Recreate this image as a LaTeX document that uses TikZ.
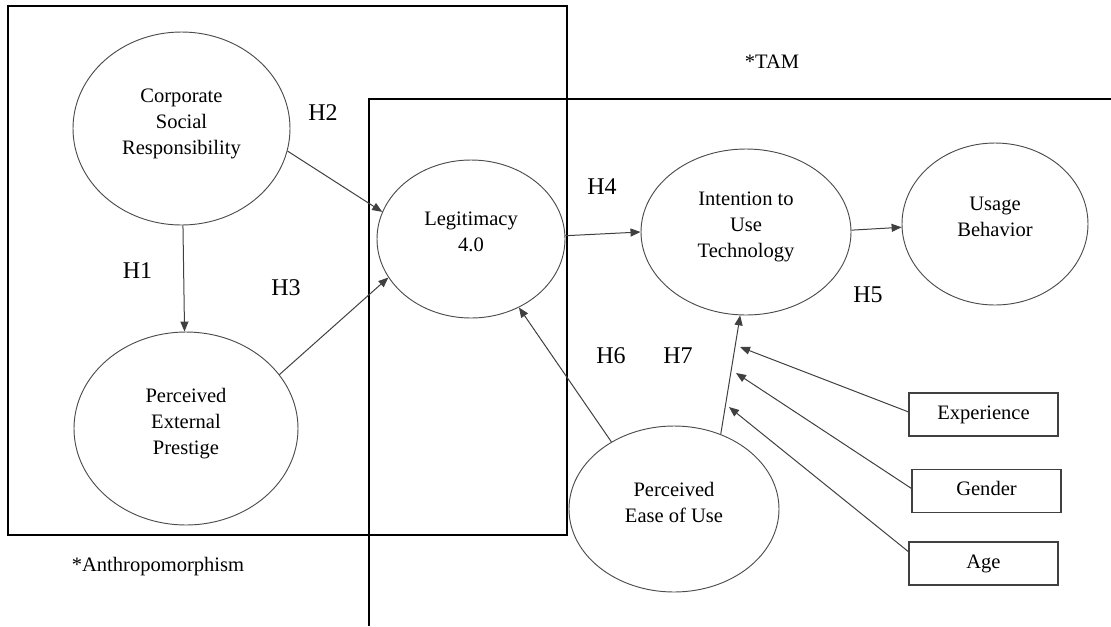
\documentclass[tikz,border=0pt]{standalone}
\usepackage{fontspec}
\setmainfont{Liberation Serif}
\usetikzlibrary{shapes.geometric,arrows.meta}

\begin{document}
\begin{tikzpicture}[x=0.75pt,y=-0.75pt,
  latent/.style={ellipse,draw=black!70,line width=0.7pt,inner sep=0pt,align=center,
    font=\fontsize{15.4}{19.5}\selectfont,text depth=10.5pt},
  indicator/.style={rectangle,draw=black!75,line width=1pt,inner sep=0pt,
    minimum width=111.75pt,minimum height=32.25pt,
    font=\fontsize{15.4}{19.5}\selectfont,text height=10.5pt,text depth=3.5pt},
  hyp/.style={inner sep=0pt,font=\fontsize{18}{20}\selectfont},
  note/.style={inner sep=0pt,font=\fontsize{15.4}{19.5}\selectfont},
  frame/.style={draw=black,line width=1.5pt},
  link/.style={draw=black!75,line width=0.75pt,-{Triangle[length=7.5pt,width=6pt]}}]
  \useasboundingbox (0,0) rectangle (1111,626);
  \draw[frame] (8,6) rectangle (567,535);
  \draw[frame] (1111,99) -- (369,99) -- (369,626);
  \node[note] (tam) at (772,62) {*TAM};
  \node[note] (anthro) at (158,567) {*Anthropomorphism};

  \node[latent,minimum width=162.75pt,minimum height=144.75pt] (csr) at (181.5,128.5) {Corporate\\Social\\Responsibility};
  \node[latent,minimum width=168pt,minimum height=144.75pt] (pep) at (186,428.5) {Perceived\\External\\Prestige};
  \node[latent,minimum width=141pt,minimum height=118.5pt] (legit) at (471,239) {Legitimacy\\4.0};
  \node[latent,minimum width=157.5pt,minimum height=124.5pt] (intent) at (746,232) {Intention to\\Use\\Technology};
  \node[latent,minimum width=139.5pt,minimum height=121.5pt] (usage) at (995,224) {Usage\\Behavior};
  \node[latent,minimum width=157.5pt,minimum height=124.5pt] (peou) at (674,509) {Perceived\\Ease of Use};
  \node[indicator] (exper) at (983.5,414.5) {Experience};
  \node[indicator] (gender) at (986.5,491) {Gender};
  \node[indicator] (age) at (983.5,563.5) {Age};

  \node[hyp] (h1) at (137.5,271) {H1};
  \node[hyp] (h2) at (323,113) {H2};
  \node[hyp] (h3) at (286,288) {H3};
  \node[hyp] (h4) at (602,187) {H4};
  \node[hyp] (h5) at (868,295) {H5};
  \node[hyp] (h6) at (611,356) {H6};
  \node[hyp] (h7) at (678,356) {H7};

  \coordinate (mexp) at (740,347);
  \coordinate (mgen) at (736,373);
  \coordinate (mage) at (729,407);

  \draw[link] (csr) -- (pep);
  \draw[link] (csr.-12) -- (legit.163);
  \draw[link] (pep.30) -- (legit.205);
  \draw[link] (legit.2) -- (intent.180);
  \draw[link] (intent.1) -- (usage.182);
  \draw[link] (peou.58) -- (intent.266);
  \draw[link] (peou.133) -- (legit.305);
  \draw[link] (exper.178) -- (mexp);
  \draw[link] (gender.178) -- (mgen);
  \draw[link] (age.171) -- (mage);
\end{tikzpicture}
\end{document}
